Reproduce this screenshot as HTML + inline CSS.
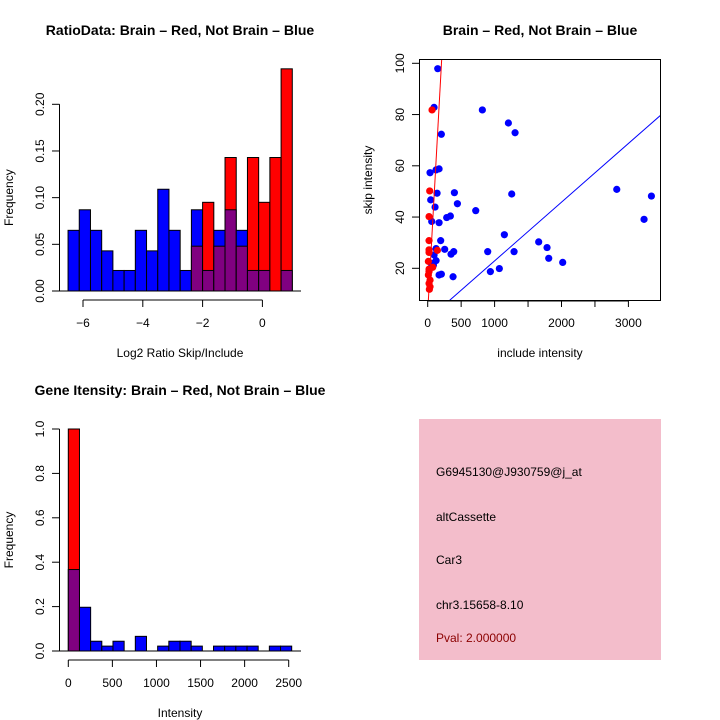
<!DOCTYPE html>
<html><head><meta charset="utf-8">
<style>
body{margin:0;background:#fff;}
svg{display:block;font-family:"Liberation Sans",sans-serif;}
</style></head>
<body>
<svg id="c" width="720" height="720" viewBox="0 0 720 720" xmlns="http://www.w3.org/2000/svg">
<rect width="720" height="720" fill="#fff"/>
<g id="g1"></g>
<g id="g2"></g>
<g id="g3"></g>
<g>
<rect x="419" y="419" width="242" height="241" fill="#f3bdcb"/>
<text x="436" y="476" font-size="12" fill="#000">G6945130@J930759@j_at</text>
<text x="436" y="521" font-size="12" fill="#000">altCassette</text>
<text x="436" y="564" font-size="12" fill="#000">Car3</text>
<text x="436" y="609" font-size="12" fill="#000">chr3.15658-8.10</text>
<text x="436" y="642" font-size="12" fill="#8b0000">Pval: 2.000000</text>
</g>
</svg>
<script>
// ---- Data: ratio histogram ----
const ratioBinStart = -6.5;
const ratioBinWidth = 0.375;
const ratioBlue = [0.065,0.087,0.065,0.043,0.022,0.022,0.065,0.043,0.109,0.065,0.022,0.087,0.022,0.065,0.087,0.065,0.022,0.022,0,0.022];
const ratioRed  = [0,0,0,0,0,0,0,0,0,0,0,0.048,0.095,0.048,0.143,0.048,0.143,0.095,0.143,0.238];
const ratioYTicks = [0,0.05,0.10,0.15,0.20];
const ratioYLabels = ["0.00","0.05","0.10","0.15","0.20"];
const ratioXTicks = [-6,-4,-2,0];
const ratioXLabels = ["\u22126","\u22124","\u22122","0"];
// ---- Data: scatter ----
const blueX = [150,95,817,1206,1306,204,35,125,170,140,399,444,45,110,718,1256,2826,3344,3234,60,170,284,339,194,1146,1659,1784,1809,2018,1291,897,254,125,349,389,95,125,50,85,937,1071,170,204,379];
const blueY = [97.9,82.8,81.8,76.7,72.9,72.3,57.3,58.4,58.8,49.3,49.5,45.2,46.7,43.9,42.5,49.0,50.8,48.2,39.1,38.3,37.8,39.8,40.4,30.8,33.1,30.3,28.1,23.9,22.3,26.5,26.5,27.4,27.7,25.5,26.5,25.2,23.0,22.0,21.2,18.7,19.9,17.4,17.7,16.7];
const redX = [65,30,20,20,20,20,145,10,75,20,10,35,20,35,25,20];
const redY = [81.8,50.2,40.2,30.8,27.2,26.2,27,22.7,20.4,19.7,17.4,15.4,14.1,12.8,11.8,18.7];
const fitIntercept = [2.9, 0];
const fitSlope = [0.472, 0.0229];
const scatXTicks = [0,500,1000,1500,2000,2500,3000];
const scatXLabels = ["0","500","1000","","2000","","3000"];
const scatYTicks = [20,40,60,80,100];
const scatYLabels = ["20","40","60","80","100"];
// ---- Data: intensity histogram ----
const intBinWidth = 126.7;
const intBlue = [0.367,0.197,0.044,0.022,0.044,0,0.066,0,0.022,0.044,0.044,0.022,0,0.022,0.022,0.022,0.022,0,0.022,0.022];
const intRed  = [1.0,0,0,0,0,0,0,0,0,0,0,0,0,0,0,0,0,0,0,0];
const intXTicks = [0,500,1000,1500,2000,2500];
const intXLabels = ["0","500","1000","1500","2000","2500"];
const intYTicks = [0,0.2,0.4,0.6,0.8,1.0];
const intYLabels = ["0.0","0.2","0.4","0.6","0.8","1.0"];

const NS="http://www.w3.org/2000/svg";
function mk(parent,tag,attrs,text){const e=document.createElementNS(NS,tag);for(const k in attrs)e.setAttribute(k,attrs[k]);if(text!==undefined)e.textContent=text;parent.appendChild(e);return e;}

function histogram(g,o){
  const sx=v=>o.x0+(v-o.d0)*o.kx, sy=v=>o.y0-v*o.ky;
  for(let i=0;i<o.blue.length;i++){
    const a=o.start+i*o.bw,b=a+o.bw;
    const x1=sx(a),x2=sx(b);
    const bl=o.blue[i],rd=o.red[i];
    const hi=Math.max(bl,rd),lo=Math.min(bl,rd);
    if(hi>0){const r=mk(g,'rect',{x:x1,y:sy(hi),width:x2-x1,height:sy(0)-sy(hi),fill:bl>=rd?'#0000ff':'#ff0000',stroke:'#000','stroke-width':1});
      
      }
    if(lo>0){const r=mk(g,'rect',{x:x1,y:sy(lo),width:x2-x1,height:sy(0)-sy(lo),fill:'#800080',stroke:'#000','stroke-width':1});
      
      }
  }
  mk(g,'line',{x1:o.baseL,x2:o.baseR,y1:sy(0),y2:sy(0),stroke:'#000'});
  // y axis
  const ya=mk(g,'g',{});
  
  
  mk(ya,'line',{x1:59.5,x2:59.5,y1:sy(o.yt[0]),y2:sy(o.yt[o.yt.length-1]),stroke:'#000'});
  o.yt.forEach((v,i)=>{const y=sy(v);mk(ya,'line',{x1:52,x2:59.5,y1:y,y2:y,stroke:'#000'});
    mk(ya,'text',{x:44,y:y,'font-size':12,'text-anchor':'middle',transform:`rotate(-90 44 ${y})`},o.yl[i]);});
  const xa=mk(g,'g',{});
  
  
  const xt0=sx(o.xt[0]),xt1=sx(o.xt[o.xt.length-1]);
  mk(xa,'line',{x1:xt0,x2:xt1,y1:o.axY,y2:o.axY,stroke:'#000'});
  o.xt.forEach((v,i)=>{const x=sx(v);mk(xa,'line',{x1:x,x2:x,y1:o.axY,y2:o.axY+7,stroke:'#000'});
    mk(xa,'text',{x:x,y:o.axY+27,'font-size':12,'text-anchor':'middle'},o.xl[i]);});
  const t=mk(g,'text',{x:180,y:o.titleY,'font-size':14,'font-weight':'bold','text-anchor':'middle'},o.title);
  
  
  const xl=mk(g,'text',{x:180,y:o.axY+57,'font-size':12,'text-anchor':'middle'},o.xlab);
  
  
  const yc=(sy(0)+sy(o.yt[o.yt.length-1]))/2;
  const yl=mk(g,'text',{x:13,y:yc,'font-size':12,'text-anchor':'middle',transform:`rotate(-90 13 ${yc})`},'Frequency');
  
  
}

histogram(document.getElementById('g1'),{x0:83,d0:-6,kx:29.9,y0:291,ky:933.5,start:ratioBinStart,bw:ratioBinWidth,
  blue:ratioBlue,red:ratioRed,yt:ratioYTicks,yl:ratioYLabels,xt:ratioXTicks,xl:ratioXLabels,axY:300,titleY:35,
  title:'RatioData: Brain \u2013 Red, Not Brain \u2013 Blue',xlab:'Log2 Ratio Skip/Include',baseL:52,baseR:301});
histogram(document.getElementById('g3'),{x0:68.3,d0:0,kx:0.08816,y0:651,ky:222,start:0,bw:intBinWidth,
  blue:intBlue,red:intRed,yt:intYTicks,yl:intYLabels,xt:intXTicks,xl:intXLabels,axY:660,titleY:395,
  title:'Gene Itensity: Brain \u2013 Red, Not Brain \u2013 Blue',xlab:'Intensity',baseL:52,baseR:301});

// scatter
(function(){
  const g=document.getElementById('g2');
  const L=419,R=661,T=59,B=300;
  const sx=v=>427.7+v*0.0669, sy=v=>268.3-(v-20)*2.5625;
  const xMin=(L-427.7)/0.0669,xMax=(R-427.7)/0.0669;
  const cp=mk(g,'clipPath',{id:'clip'});mk(cp,'rect',{x:L,y:T,width:R-L,height:B-T});
  const pts=mk(g,'g',{'clip-path':'url(#clip)'});
  blueX.forEach((x,i)=>{const c=mk(pts,'circle',{cx:sx(x),cy:sy(blueY[i]),r:3.6,fill:'#0000ff'});
    
    });
  redX.forEach((x,i)=>{const c=mk(pts,'circle',{cx:sx(x),cy:sy(redY[i]),r:3.6,fill:'#ff0000'});
    
    });
  ['#ff0000','#0000ff'].forEach((col,k)=>{
    const l=mk(pts,'line',{x1:sx(xMin),y1:sy(fitIntercept[k]+fitSlope[k]*xMin),x2:sx(xMax),y2:sy(fitIntercept[k]+fitSlope[k]*xMax),stroke:col,'stroke-width':1});
    
    });
  mk(g,'rect',{x:L+0.5,y:T+0.5,width:R-L-1,height:B-T,fill:'none',stroke:'#000'});
  const xa=mk(g,'g',{});
  
  
  mk(xa,'line',{x1:sx(scatXTicks[0]),x2:sx(scatXTicks[scatXTicks.length-1]),y1:B+1,y2:B+1,stroke:'#000'});
  scatXTicks.forEach((v,i)=>{const x=sx(v);mk(xa,'line',{x1:x,x2:x,y1:B,y2:B+7,stroke:'#000'});
    if(scatXLabels[i])mk(xa,'text',{x:x,y:B+27,'font-size':12,'text-anchor':'middle'},scatXLabels[i]);});
  const ya=mk(g,'g',{});
  
  
  scatYTicks.forEach((v,i)=>{const y=sy(v);mk(ya,'line',{x1:412,x2:419,y1:y,y2:y,stroke:'#000'});
    mk(ya,'text',{x:404,y:y,'font-size':12,'text-anchor':'middle',transform:`rotate(-90 404 ${y})`},scatYLabels[i]);});
  const t=mk(g,'text',{x:540,y:35,'font-size':14,'font-weight':'bold','text-anchor':'middle'},'Brain \u2013 Red, Not Brain \u2013 Blue');
  
  
  const xl=mk(g,'text',{x:540,y:357,'font-size':12,'text-anchor':'middle'},'include intensity');
  
  
  const yl=mk(g,'text',{x:372,y:180,'font-size':12,'text-anchor':'middle',transform:'rotate(-90 372 180)'},'skip intensity');
  
  
})();
</script>
</body></html>
